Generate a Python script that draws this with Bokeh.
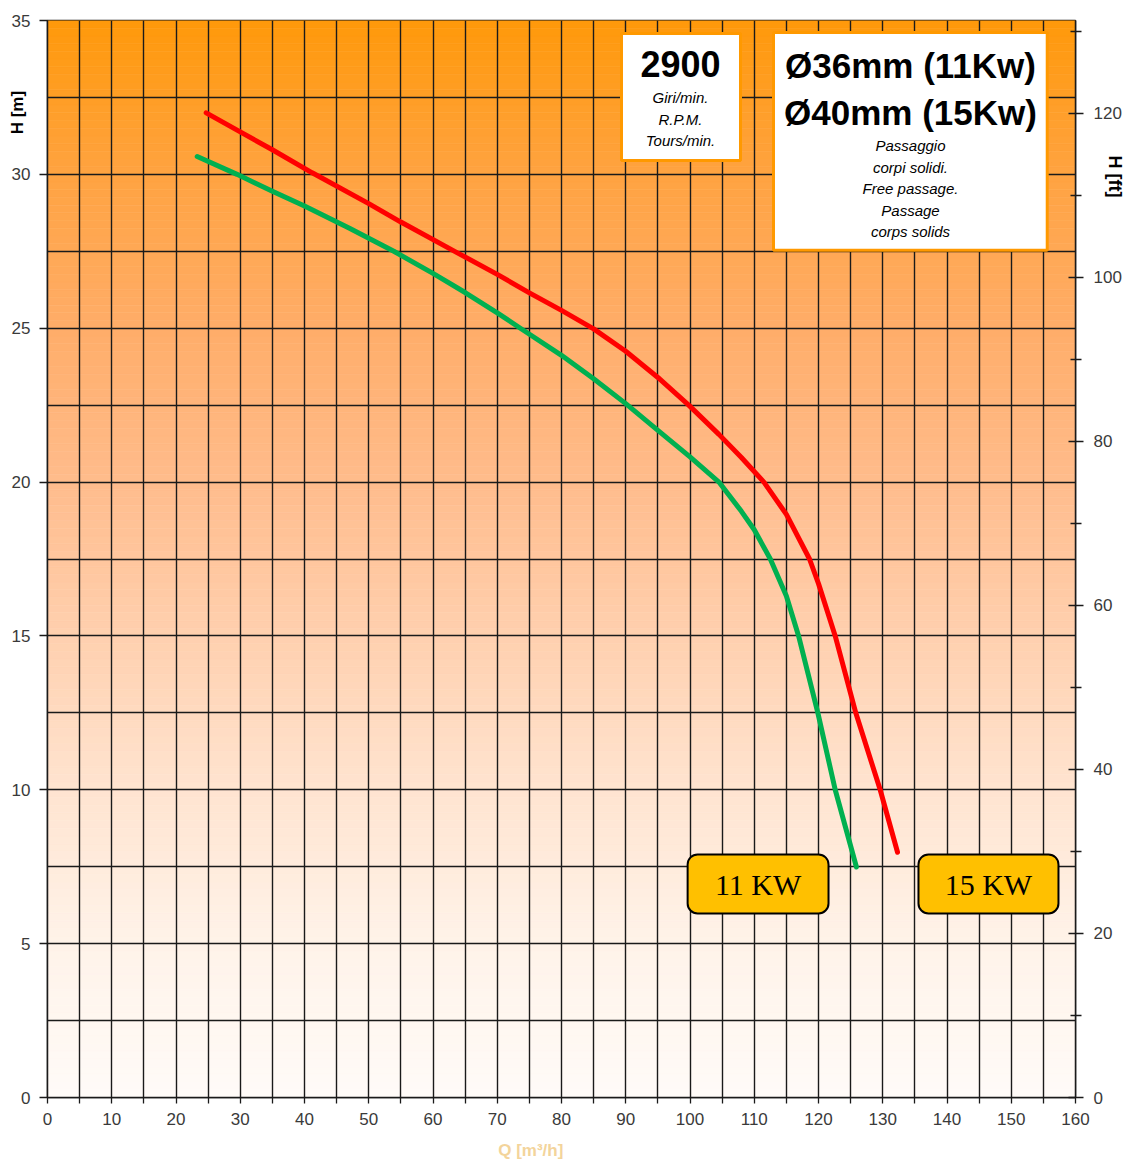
import math
from bokeh.plotting import figure
from bokeh.models import Range1d, LinearAxis, FixedTicker, Label
from bokeh.embed import file_html
from bokeh.resources import INLINE

# ---------------- data ----------------
q_15kw = [24.7, 30, 35, 41.2, 50, 55, 63.8, 70, 75, 80, 85, 90, 95, 99.8, 104.5, 108, 111.5, 115, 118.6, 120, 122.6, 125.8, 129.6, 132.3]
h_15kw = [32.0, 31.38, 30.8, 30.05, 29.05, 28.45, 27.45, 26.75, 26.15, 25.58, 24.98, 24.25, 23.4, 22.5, 21.55, 20.8, 20.0, 18.95, 17.5, 16.7, 15.0, 12.5, 10.0, 7.97]

q_11kw = [23.3, 29.5, 35, 40, 47, 53.9, 60, 65, 70, 73.6, 80, 85, 90, 95, 100, 104.5, 108, 110, 112.5, 115, 116.9, 119.9, 122.6, 125.9]
h_11kw = [30.58, 30.0, 29.45, 28.97, 28.25, 27.5, 26.78, 26.16, 25.5, 25.0, 24.12, 23.36, 22.55, 21.68, 20.82, 20.0, 19.05, 18.45, 17.5, 16.3, 15.0, 12.5, 10.0, 7.49]

x_major = [0, 10, 20, 30, 40, 50, 60, 70, 80, 90, 100, 110, 120, 130, 140, 150, 160]
x_minor = [5, 15, 25, 35, 45, 55, 65, 75, 85, 95, 105, 115, 125, 135, 145, 155]
y_ticks_m = [0, 5, 10, 15, 20, 25, 30, 35]
y_ticks_ft = [0, 20, 40, 60, 80, 100, 120]
y_minor_ft = [10, 30, 50, 70, 90, 110, 130]
x_grid = sorted(x_major + x_minor)
y_grid = [0, 2.5, 5, 7.5, 10, 12.5, 15, 17.5, 20, 22.5, 25, 27.5, 30, 32.5, 35]

FONT = "Liberation Sans"
NB = "\u00a0"

p = figure(width=1127, height=1162, output_backend="svg", toolbar_location=None,
           x_range=Range1d(0, 160), y_range=Range1d(0, 35),
           min_border_left=47, min_border_right=52, min_border_top=20, min_border_bottom=65)
p.extra_y_ranges = {"ft": Range1d(0, 131.34)}
p.background_fill_color = "white"
p.border_fill_color = "white"
p.outline_line_color = "#1a1a1a"
p.outline_line_width = 1.5

# ---------------- gradient background ----------------
stops = [(0, (255, 251, 248)), (5, (255, 243, 233)), (10, (255, 228, 208)), (15, (255, 208, 175)),
         (20, (255, 188, 140)), (25, (255, 173, 105)), (30, (255, 163, 65)), (35, (255, 153, 10))]

def grad_color(h):
    for (h0, c0), (h1, c1) in zip(stops[:-1], stops[1:]):
        if h0 <= h <= h1:
            t = (h - h0) / (h1 - h0)
            c = [round(a + (b - a) * t) for a, b in zip(c0, c1)]
            return "#%02x%02x%02x" % tuple(c)
    return "#ffffff"

n_strips = 140
step = 35 / n_strips
bots = [i * step for i in range(n_strips)]
tops = [b + step for b in bots]
cols = [grad_color(b + step / 2) for b in bots]
p.quad(left=0, right=160, bottom=bots, top=tops, fill_color=cols, line_color=cols,
       line_width=0.6, level="image")

# ---------------- grid ----------------
p.xgrid.ticker = FixedTicker(ticks=x_grid)
p.ygrid.ticker = FixedTicker(ticks=y_grid)
for g in (p.xgrid, p.ygrid):
    g.grid_line_color = "#1a1a1a"
    g.grid_line_width = 1.4
    g.grid_line_alpha = 1.0

# ---------------- axes ----------------
xa = p.xaxis[0]
xa.ticker = FixedTicker(ticks=x_major, minor_ticks=x_minor)
xa.major_tick_out = 6
xa.major_tick_in = 0
xa.minor_tick_out = 6
xa.minor_tick_in = 0
xa.major_label_standoff = 9
xa.axis_label = "Q [m³/h]" + NB * 13
xa.axis_label_standoff = 13
xa.axis_label_text_color = "#F3D49B"
xa.axis_label_text_font_size = "17px"

ya = p.yaxis[0]
ya.ticker = FixedTicker(ticks=y_ticks_m, minor_ticks=[])
ya.major_tick_out = 8
ya.major_tick_in = 0
ya.major_label_standoff = 9
ya.axis_label = NB * 189 + "H [m]"
ya.axis_label_standoff = -18
ya.axis_label_text_color = "black"
ya.axis_label_text_font_size = "17px"

ra = LinearAxis(y_range_name="ft", ticker=FixedTicker(ticks=y_ticks_ft, minor_ticks=y_minor_ft))
ra.major_tick_out = 8
ra.major_tick_in = 7
ra.minor_tick_out = 6
ra.minor_tick_in = 5
ra.major_label_standoff = 10
ra.axis_label = "H [ft]" + NB * 153
ra.axis_label_standoff = -20
ra.axis_label_text_color = "black"
ra.axis_label_text_font_size = "18px"
ra.axis_label_orientation = "vertical"
p.add_layout(ra, "right")

for ax in (xa, ya, ra):
    ax.axis_line_color = "#1a1a1a"
    ax.axis_line_width = 1.5
    ax.major_tick_line_color = "#1a1a1a"
    ax.major_tick_line_width = 1.3
    ax.minor_tick_line_color = "#1a1a1a"
    ax.minor_tick_line_width = 1.3
    ax.major_label_text_font = FONT
    ax.major_label_text_font_size = "17px"
    ax.major_label_text_color = "#3a3a3a"
    ax.axis_label_text_font = FONT
    ax.axis_label_text_font_style = "bold"
ya.minor_tick_line_color = None

# ---------------- curves ----------------
p.line(q_11kw, h_11kw, line_color="#00B050", line_width=5, line_cap="round", line_join="round")
p.line(q_15kw, h_15kw, line_color="#FF0000", line_width=5, line_cap="round", line_join="round")

# ---------------- info boxes ----------------
p.quad(left=[89.34], right=[107.86], top=[34.58], bottom=[30.45], fill_color="white",
       line_color="#FF9900", line_width=3)
p.quad(left=[113.0], right=[155.6], top=[34.61], bottom=[27.53], fill_color="white",
       line_color="#FF9900", line_width=3)

def lbl(x, y, text, size, style="normal", font=FONT, color="black"):
    p.add_layout(Label(x=x, y=y, text=text, text_font=font, text_font_size=size,
                       text_font_style=style, text_align="center", text_baseline="middle",
                       text_color=color))

lbl(98.52, 33.58, "2900", "36px", "bold")
lbl(98.52, 32.49, "Giri/min.", "15px", "italic")
lbl(98.52, 31.77, "R.P.M.", "15px", "italic")
lbl(98.52, 31.10, "Tours/min.", "15px", "italic")

lbl(134.32, 33.55, "Ø36mm (11Kw)", "35px", "bold")
lbl(134.32, 32.01, "Ø40mm (15Kw)", "35px", "bold")
lbl(134.32, 30.94, "Passaggio", "15px", "italic")
lbl(134.32, 30.23, "corpi solidi.", "15px", "italic")
lbl(134.32, 29.53, "Free passage.", "15px", "italic")
lbl(134.32, 28.83, "Passage", "15px", "italic")
lbl(134.32, 28.15, "corps solids", "15px", "italic")

# ---------------- KW tags ----------------
p.quad(left=[99.63, 135.56], right=[121.56, 157.35], top=[7.90, 7.90], bottom=[5.98, 5.98],
       fill_color="#FFC000", line_color="black", line_width=2, border_radius=10)
lbl(110.6, 6.93, "11 KW", "30px", font="Liberation Serif")
lbl(146.45, 6.93, "15 KW", "30px", font="Liberation Serif")

open("out.html", "w").write(file_html(p, INLINE))
